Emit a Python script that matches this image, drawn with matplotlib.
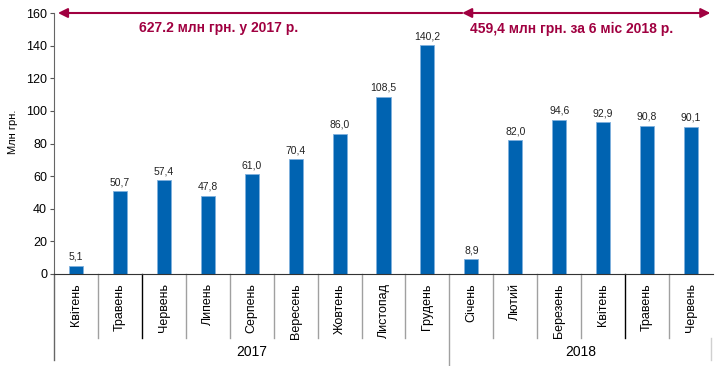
import matplotlib.pyplot as plt
import matplotlib.transforms as mtransforms

plt.rcParams['font.family'] = ['Liberation Sans Narrow', 'Liberation Sans', 'DejaVu Sans']

# data
months = ['Квітень', 'Травень', 'Червень', 'Липень', 'Серпень', 'Вересень', 'Жовтень',
          'Листопад', 'Грудень', 'Січень', 'Лютий', 'Березень', 'Квітень', 'Травень', 'Червень']
values = [5.1, 50.7, 57.4, 47.8, 61.0, 70.4, 86.0, 108.5, 140.2, 8.9, 82.0, 94.6, 92.9, 90.8, 90.1]
labels = ['5,1', '50,7', '57,4', '47,8', '61,0', '70,4', '86,0', '108,5', '140,2',
          '8,9', '82,0', '94,6', '92,9', '90,8', '90,1']
years = ['2017', '2018']
year_counts = [9, 6]
totals = ['627.2 млн грн. у 2017 р.', '459,4 млн грн. за 6 міс 2018 р.']

blue = '#0063b1'
red = '#a00040'
gray = '#a0a0a0'

fig = plt.figure(figsize=(7.15, 3.66), dpi=100)
ax = fig.add_axes([54 / 715, 1 - 274 / 366, 659 / 715, 261 / 366])

x = list(range(len(values)))
ax.bar(x, values, width=0.32, color=blue, edgecolor='#7fb0dd', linewidth=0.6)
for xi, v, lab in zip(x, values, labels):
    ax.text(xi, v + 2.5, lab, ha='center', va='bottom', fontsize=7.5, color='#222222')

ax.set_xlim(-0.5, len(values) - 0.5)
ax.set_ylim(0, 160)
ax.set_yticks(range(0, 161, 20))
ax.tick_params(axis='y', labelsize=9, length=3, color='#555555', pad=2)
ax.set_xticks([])
fig.text(13 / 715, 1 - 132 / 366, 'Млн грн.', rotation=90, ha='center', va='center', fontsize=8)
for s in ['top', 'right']:
    ax.spines[s].set_visible(False)
ax.spines['left'].set_color('#666666')
ax.spines['bottom'].set_color('#333333')

# category labels and separators below the axis
trans = mtransforms.blended_transform_factory(ax.transData, ax.transAxes)
for xi, m in zip(x, months):
    ax.text(xi, -0.035, m, transform=trans, rotation=90, ha='center', va='top', fontsize=9)
for b in range(1, len(values)):
    col = 'black' if b in (2, 13) else gray
    bottom = -0.245
    if b == year_counts[0]:
        col = gray
        bottom = -0.352
    ax.plot([b - 0.5, b - 0.5], [0, bottom], transform=trans, color=col, lw=1, clip_on=False)
ax.plot([-0.5, -0.5], [0, -0.33], transform=trans, color='#666666', lw=1, clip_on=False)
ax.plot([14.45, 14.45], [-0.245, -0.33], transform=trans, color='#d0d0d0', lw=1, clip_on=False)

start = 0
for yr, n in zip(years, year_counts):
    ax.text(start - 0.5 + n / 2, -0.30, yr, transform=trans, ha='center', va='center', fontsize=10)
    start += n

# totals arrows
ax.annotate('', xy=(-0.41, 160), xytext=(8.79, 160),
            arrowprops=dict(arrowstyle='-|>', color=red, lw=1.5, mutation_scale=14, shrinkA=0, shrinkB=0),
            annotation_clip=False)
ax.annotate('', xy=(8.79, 160), xytext=(14.44, 160),
            arrowprops=dict(arrowstyle='<|-|>', color=red, lw=1.5, mutation_scale=14, shrinkA=0, shrinkB=0),
            annotation_clip=False)
ax.text(3.24, 150.5, totals[0], ha='center', va='center', fontsize=10, fontweight='bold', color=red)
ax.text(11.28, 150.5, totals[1], ha='center', va='center', fontsize=10, fontweight='bold', color=red)

fig.savefig('out.png', dpi=100)
